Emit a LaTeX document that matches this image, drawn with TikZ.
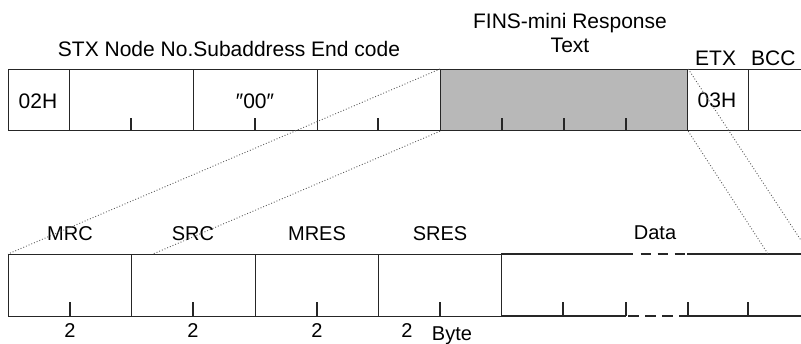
\documentclass[tikz,border=0pt]{standalone}
\usepackage{fontspec}
\setmainfont{Liberation Sans}
\begin{document}
\begin{tikzpicture}[x=1pt,y=-1pt,
  cell/.style={draw=black!85, line width=1.2pt, inner sep=0pt, anchor=north west},
  topcell/.style={cell, minimum height=61pt},
  botcell/.style={cell, minimum height=62pt},
  lbl/.style={font=\fontsize{21}{24}\selectfont, inner sep=0pt, anchor=base},
  blbl/.style={font=\fontsize{20}{24}\selectfont, inner sep=0pt, anchor=base},
  tickline/.style={draw=black!85, line width=1.2pt},
  rule/.style={draw=black!85, line width=1.2pt},
  dashrule/.style={draw=black!85, line width=1.2pt, dash pattern=on 10.5pt off 6.5pt},
  guide/.style={draw=black!65, dotted, line width=0.9pt}]
\useasboundingbox (0,0) rectangle (801,343);
\clip (0,0) rectangle (801,343);

% top frame
\node[topcell, minimum width=61pt]  (stx)    at (8,69) {};
\node[topcell, minimum width=124pt] (nodeno) at (69,69) {};
\node[topcell, minimum width=124pt] (sub)    at (193,69) {};
\node[topcell, minimum width=123pt] (endc)   at (317,69) {};
\node[topcell, minimum width=247pt, fill=black!28] (fins) at (440,69) {};
\node[topcell, minimum width=61pt]  (etx)    at (687,69) {};
\node[topcell, minimum width=70pt]  (bcc)    at (748,69) {};

\foreach \x in {131,255,378,502,564,626}
  \draw[tickline] (\x,118) -- (\x,130);

\node[lbl] (t02) at (38,108) {02H};
\node[lbl] (t00) at (255,108) {″00″};
\node[lbl] (t03) at (717,107) {03H};

\node[lbl] (hdr)  at (229,56) {STX Node No.Subaddress End code};
\node[lbl] (fins1) at (570,28) {FINS-mini Response};
\node[lbl] (fins2) at (570,52) {Text};
\node[lbl, anchor=base west] (etxl) at (695,65) {ETX};
\node[lbl, anchor=base west] (bccl) at (751,65) {BCC};

% bottom frame
\node[botcell, minimum width=123pt] (mrc)  at (8,254) {};
\node[botcell, minimum width=124pt] (src)  at (131,254) {};
\node[botcell, minimum width=123pt] (mres) at (255,254) {};
\node[botcell, minimum width=123pt] (sres) at (378,254) {};

\coordinate (dtl) at (501,254);
\coordinate (dta) at (633,254);
\coordinate (dtb) at (640.5,254);
\coordinate (dtc) at (687,254);
\coordinate (dtr) at (810,254);
\coordinate (dbl) at (501,316);
\coordinate (dba) at (626,316);
\coordinate (dbb) at (628,316);
\coordinate (dbc) at (688,316);
\coordinate (dbr) at (810,316);
\draw[rule] (dtl) -- (dta);
\draw[dashrule] (dtb) -- (dtc);
\draw[rule] (dtc) -- (dtr);
\draw[rule] (dbl) -- (dba);
\draw[dashrule] (dbb) -- (dbc);
\draw[rule] (dbc) -- (dbr);

\foreach \x in {70,193,317,440,563,626,688,748}
  \draw[tickline] (\x,302) -- (\x,316);

\node[blbl] (lmrc)  at (70,240) {MRC};
\node[blbl] (lsrc)  at (193,240) {SRC};
\node[blbl] (lmres) at (317,240) {MRES};
\node[blbl] (lsres) at (440,240) {SRES};
\node[blbl] (ldata) at (655,239) {Data};

\node[blbl] (n1) at (70,337) {2};
\node[blbl] (n2) at (193,337) {2};
\node[blbl] (n3) at (317,337) {2};
\node[blbl] (n4) at (407,337) {2};
\node[blbl] (byte) at (452,340) {Byte};

% guide lines
\coordinate (g2) at (153,254);
\coordinate (g3) at (768,254);
\coordinate (g4) at (810,254);
\draw[guide] (fins.north west) -- (mrc.north west);
\draw[guide] (fins.south west) -- (g2);
\draw[guide] (fins.south east) -- (g3);
\draw[guide] (fins.north east) -- (g4);
\end{tikzpicture}
\end{document}
